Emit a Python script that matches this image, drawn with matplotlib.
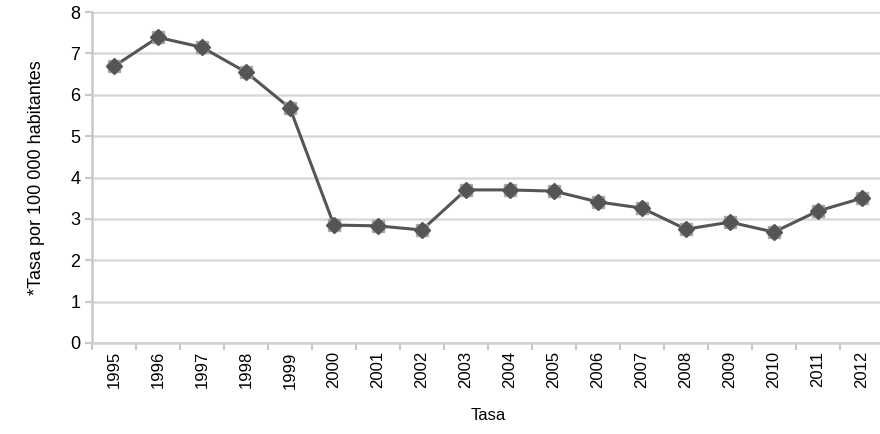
import numpy as np
import matplotlib.pyplot as plt
from matplotlib import font_manager

names = [f.name for f in font_manager.fontManager.ttflist]
fam = 'Liberation Sans Narrow' if 'Liberation Sans Narrow' in names else 'Liberation Sans'
plt.rcParams['font.family'] = [fam, 'DejaVu Sans']

years = ['1995', '1996', '1997', '1998', '1999', '2000', '2001', '2002', '2003',
         '2004', '2005', '2006', '2007', '2008', '2009', '2010', '2011', '2012']
tasa = [6.69, 7.39, 7.15, 6.55, 5.68, 2.85, 2.83, 2.73, 3.70,
        3.70, 3.67, 3.41, 3.26, 2.75, 2.92, 2.68, 3.19, 3.50]

fig = plt.figure(figsize=(8.8, 4.34), dpi=100)
ax = fig.add_axes([0.1045, 0.21, 0.9, 0.762])

x = np.arange(len(years))
ax.plot(x, tasa, color='#555555', linewidth=2.2, zorder=3)
ax.plot(x, tasa, linestyle='none', marker='s', markersize=8, color='#9a9a9a', alpha=0.8, zorder=4)
ax.plot(x, tasa, linestyle='none', marker='D', markersize=8, color='#555555', zorder=5)

ax.set_xlim(-0.5, len(years) - 0.5)
ax.set_ylim(0, 8)
ax.set_yticks(range(0, 9))
ax.yaxis.grid(True, color='#d9d9d9', linewidth=1.8)
ax.set_axisbelow(True)

ax.set_xticks(x)
ax.set_xticklabels(years, rotation=90, fontsize=12)
ax.set_xticks(np.arange(-0.5, len(years), 1), minor=True)
ax.tick_params(axis='x', which='major', length=0, pad=6)
ax.tick_params(axis='x', which='minor', length=5, color='#c8c8c8', width=1.5)
ax.tick_params(axis='y', length=5, color='#c8c8c8', width=1.5, labelsize=13)

for s in ['top', 'right']:
    ax.spines[s].set_visible(False)
ax.spines['left'].set_color('#c8c8c8')
ax.spines['left'].set_linewidth(1.8)
ax.spines['bottom'].set_color('#d0d0d0')
ax.spines['bottom'].set_linewidth(1.8)

ax.set_ylabel('*Tasa por 100 000 habitantes', fontsize=13, labelpad=18)
ax.set_xlabel('Tasa', fontsize=12, labelpad=14)

fig.savefig('out.png', dpi=100)
